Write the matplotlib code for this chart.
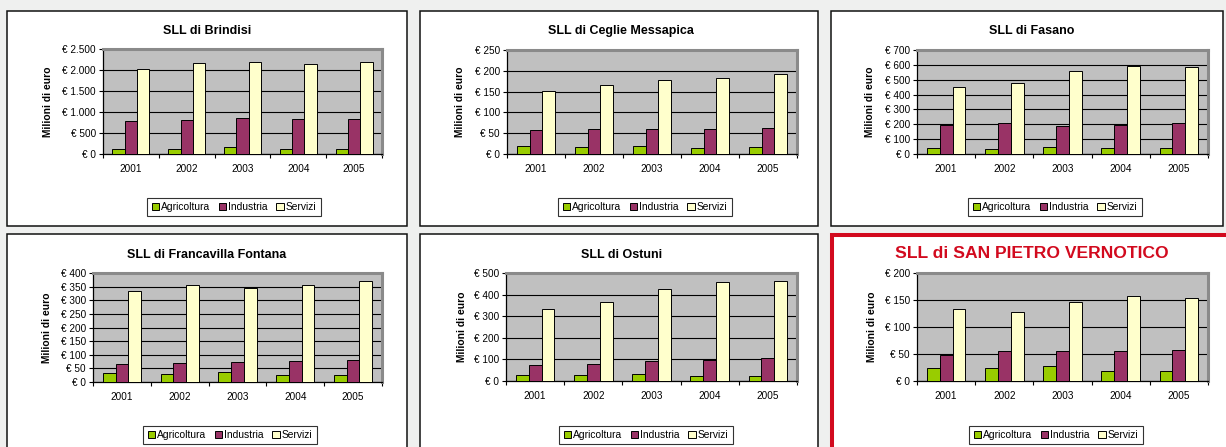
# Riquadri SLL: valore aggiunto per settore (Agricoltura / Industria / Servizi), 2001-2005
import matplotlib.pyplot as plt
import numpy as np
from matplotlib.patches import Rectangle
from matplotlib.ticker import FuncFormatter, FixedLocator

plt.rcParams["font.family"] = ["Liberation Sans", "DejaVu Sans"]

W, H = 1226, 447

years = ["2001", "2002", "2003", "2004", "2005"]
sectors = ["Agricoltura", "Industria", "Servizi"]
sector_colors = ["#99cc00", "#993366", "#ffffcc"]

titles = [
    "SLL di Brindisi",
    "SLL di Ceglie Messapica",
    "SLL di Fasano",
    "SLL di Francavilla Fontana",
    "SLL di Ostuni",
    "SLL di SAN PIETRO VERNOTICO",
]

brindisi_agri = [130, 125, 155, 120, 120]
brindisi_ind = [788, 804, 855, 828, 836]
brindisi_serv = [2022, 2158, 2190, 2142, 2190]

ceglie_agri = [19, 17, 20, 15, 17]
ceglie_ind = [58, 59, 61, 61, 62]
ceglie_serv = [151, 166, 178, 182, 192]

fasano_agri = [43, 36, 45, 40, 38]
fasano_ind = [195, 206, 186, 197, 209]
fasano_serv = [449, 478, 556, 595, 583]

francavilla_agri = [34, 30, 36, 25, 25]
francavilla_ind = [66, 69, 73, 76, 82]
francavilla_serv = [334, 356, 345, 357, 370]

ostuni_agri = [29, 26, 31, 22, 22]
ostuni_ind = [73, 77, 93, 99, 108]
ostuni_serv = [333, 368, 426, 458, 461]

sanpietro_agri = [25, 24, 27, 18, 18]
sanpietro_ind = [48, 55, 55, 55, 57]
sanpietro_serv = [133, 128, 146, 158, 154]

series = [
    (brindisi_agri, brindisi_ind, brindisi_serv),
    (ceglie_agri, ceglie_ind, ceglie_serv),
    (fasano_agri, fasano_ind, fasano_serv),
    (francavilla_agri, francavilla_ind, francavilla_serv),
    (ostuni_agri, ostuni_ind, ostuni_serv),
    (sanpietro_agri, sanpietro_ind, sanpietro_serv),
]
y_max = [2500, 250, 700, 400, 500, 200]
y_step = [500, 50, 100, 50, 100, 50]

# layout in pixel (sinistra, alto, destra, basso)
panels = [(7, 11, 407, 226), (420, 11, 818, 226), (831, 11, 1223, 226),
          (7, 234, 407, 460), (420, 234, 818, 460), (832, 235, 1240, 460)]
plot_areas = [(103, 49, 382, 154), (507, 50, 797, 154), (917, 50, 1208, 154),
              (93, 273, 382, 382), (506, 273, 797, 381), (917, 273, 1208, 381)]
title_pos = [(207, 31), (621, 31), (1032, 31), (207, 255), (622, 255), (1032, 253)]
ylabel_x = [48, 460, 870, 47, 462, 872]
legend_pos = [(234, 207), (645, 207), (1055, 207), (230, 435), (646, 435), (1056, 435)]


def fx(px):
    return px / W


def fy(py):
    return 1 - py / H


def euro(v, _pos):
    return "€ " + f"{int(v):,}".replace(",", ".")


fig = plt.figure(figsize=(W / 100, H / 100), dpi=100)
fig.patch.set_facecolor("#eff0ef")

x = np.arange(len(years))
width = 0.22

for i in range(6):
    l, t, r, b = panels[i]
    red = i == 5
    fig.add_artist(Rectangle((fx(l), fy(b)), fx(r - l), (b - t) / H,
                             transform=fig.transFigure,
                             facecolor="white",
                             edgecolor="#d20a1e" if red else "#111111",
                             linewidth=2.9 if red else 1.1, zorder=0))

    al, at, ar, ab = plot_areas[i]
    ax = fig.add_axes([fx(al), fy(ab), fx(ar - al), (ab - at) / H])
    ax.set_facecolor("#c0c0c0")
    for k, (vals, color) in enumerate(zip(series[i], sector_colors)):
        ax.bar(x + (k - 1) * width, vals, width, color=color,
               edgecolor="black", linewidth=0.7, label=sectors[k], zorder=3)

    ax.set_xlim(-0.5, len(years) - 0.5)
    ax.set_ylim(0, y_max[i])
    ax.yaxis.set_major_locator(FixedLocator(np.arange(0, y_max[i] + 1, y_step[i])))
    ax.yaxis.set_major_formatter(FuncFormatter(euro))
    ax.yaxis.grid(True, color="black", linewidth=0.8, zorder=1)
    ax.set_axisbelow(True)

    ax.set_xticks(x)
    ax.set_xticklabels(years)
    ax.set_xticks(np.arange(-0.5, len(years)), minor=True)
    ax.tick_params(axis="x", which="major", length=0, pad=7, labelsize=7.2)
    ax.tick_params(axis="x", which="minor", length=3, width=0.8, direction="out")
    ax.tick_params(axis="y", length=3, width=0.8, direction="out", pad=2, labelsize=7.2)

    for side in ("top", "right"):
        ax.spines[side].set_color("#8a8a8a")
        ax.spines[side].set_linewidth(2.2)
    for side in ("left", "bottom"):
        ax.spines[side].set_color("black")
        ax.spines[side].set_linewidth(0.9)

    tx, ty = title_pos[i]
    if red:
        fig.text(fx(tx), fy(ty), titles[i], ha="center", va="center",
                 fontsize=12.6, fontweight="bold", color="#d20a1e")
    else:
        fig.text(fx(tx), fy(ty), titles[i], ha="center", va="center",
                 fontsize=9, fontweight="bold")

    fig.text(fx(ylabel_x[i]), fy((at + ab) / 2), "Milioni di euro", rotation=90,
             ha="center", va="center", fontsize=7.4, fontweight="bold")

    lx, ly = legend_pos[i]
    leg = fig.legend(*ax.get_legend_handles_labels(), loc="center",
                     bbox_to_anchor=(fx(lx), fy(ly)), ncol=3, fontsize=7.4,
                     frameon=True, fancybox=False, handlelength=0.75,
                     handleheight=0.75, handletextpad=0.2, columnspacing=0.8,
                     borderpad=0.4, borderaxespad=0)
    leg.get_frame().set_edgecolor("black")
    leg.get_frame().set_linewidth(0.8)

fig.savefig("out.png", dpi=100, facecolor=fig.get_facecolor())
